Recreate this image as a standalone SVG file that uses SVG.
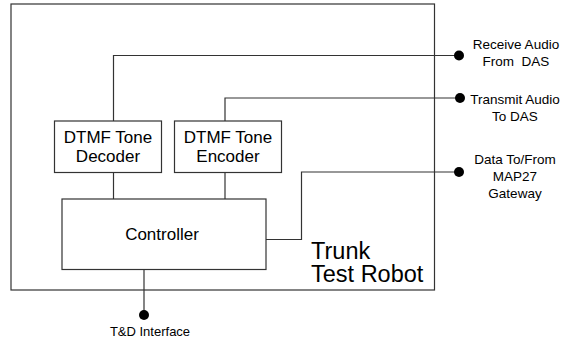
<svg xmlns="http://www.w3.org/2000/svg" width="565" height="344" viewBox="0 0 565 344">
  <style>
    .box { fill: #ffffff; stroke: #333333; stroke-width: 1.2; }
    .wire { fill: none; stroke: #333333; stroke-width: 1.2; }
    .dot { fill: #000000; }
    .lbl { font-family: "Liberation Sans", Arial, sans-serif; fill: #000000; text-anchor: middle; }
    .big { font-size: 17px; }
    .small { font-size: 13.5px; }
    .title { font-family: "Liberation Sans", Arial, sans-serif; font-size: 23.5px; fill: #000000; }
  </style>
  <rect width="565" height="344" fill="#ffffff"/>

  <!-- enclosing robot housing -->
  <g id="robot">
    <rect class="box" x="11" y="4" width="423.5" height="286"/>
    <text class="title" x="311" y="258.5">Trunk</text>
    <text class="title" x="311" y="282">Test Robot</text>
  </g>

  <!-- connectors -->
  <g id="connectors">
    <polyline class="wire" points="113.5,121 113.5,55.5 459,55.5"/>
    <polyline class="wire" points="225,121 225,98 460,98"/>
    <line class="wire" x1="113.5" y1="172.5" x2="113.5" y2="199"/>
    <line class="wire" x1="225" y1="172.5" x2="225" y2="199"/>
    <polyline class="wire" points="266,239.5 301.5,239.5 301.5,172 459,172"/>
    <line class="wire" x1="144" y1="269.5" x2="144" y2="315"/>
    <circle class="dot" cx="459" cy="55.5" r="5"/>
    <circle class="dot" cx="460" cy="98" r="5"/>
    <circle class="dot" cx="459" cy="172" r="5"/>
    <circle class="dot" cx="144" cy="315" r="5"/>
  </g>

  <g id="decoder">
    <rect class="box" x="54.5" y="121" width="107" height="51.5"/>
    <text class="lbl big" x="108" y="142.5">DTMF Tone</text>
    <text class="lbl big" x="108" y="162">Decoder</text>
  </g>

  <g id="encoder">
    <rect class="box" x="174.5" y="121" width="107" height="51.5"/>
    <text class="lbl big" x="228" y="142.5">DTMF Tone</text>
    <text class="lbl big" x="228" y="162">Encoder</text>
  </g>

  <g id="controller">
    <rect class="box" x="62" y="199" width="204" height="70.5"/>
    <text class="lbl big" x="162" y="240">Controller</text>
  </g>

  <g id="receive-audio">
    <text class="lbl small" x="516" y="49">Receive Audio</text>
    <text class="lbl small" x="516" y="66" xml:space="preserve">From  DAS</text>
  </g>

  <g id="transmit-audio">
    <text class="lbl small" x="515" y="103.5">Transmit Audio</text>
    <text class="lbl small" x="515" y="120.5">To DAS</text>
  </g>

  <g id="map27-gateway">
    <text class="lbl small" x="515" y="163.5">Data To/From</text>
    <text class="lbl small" x="515" y="180.5">MAP27</text>
    <text class="lbl small" x="515" y="197.5">Gateway</text>
  </g>

  <g id="td-interface">
    <text class="lbl small" x="150" y="336" style="font-size:13px">T&amp;D Interface</text>
  </g>
</svg>
